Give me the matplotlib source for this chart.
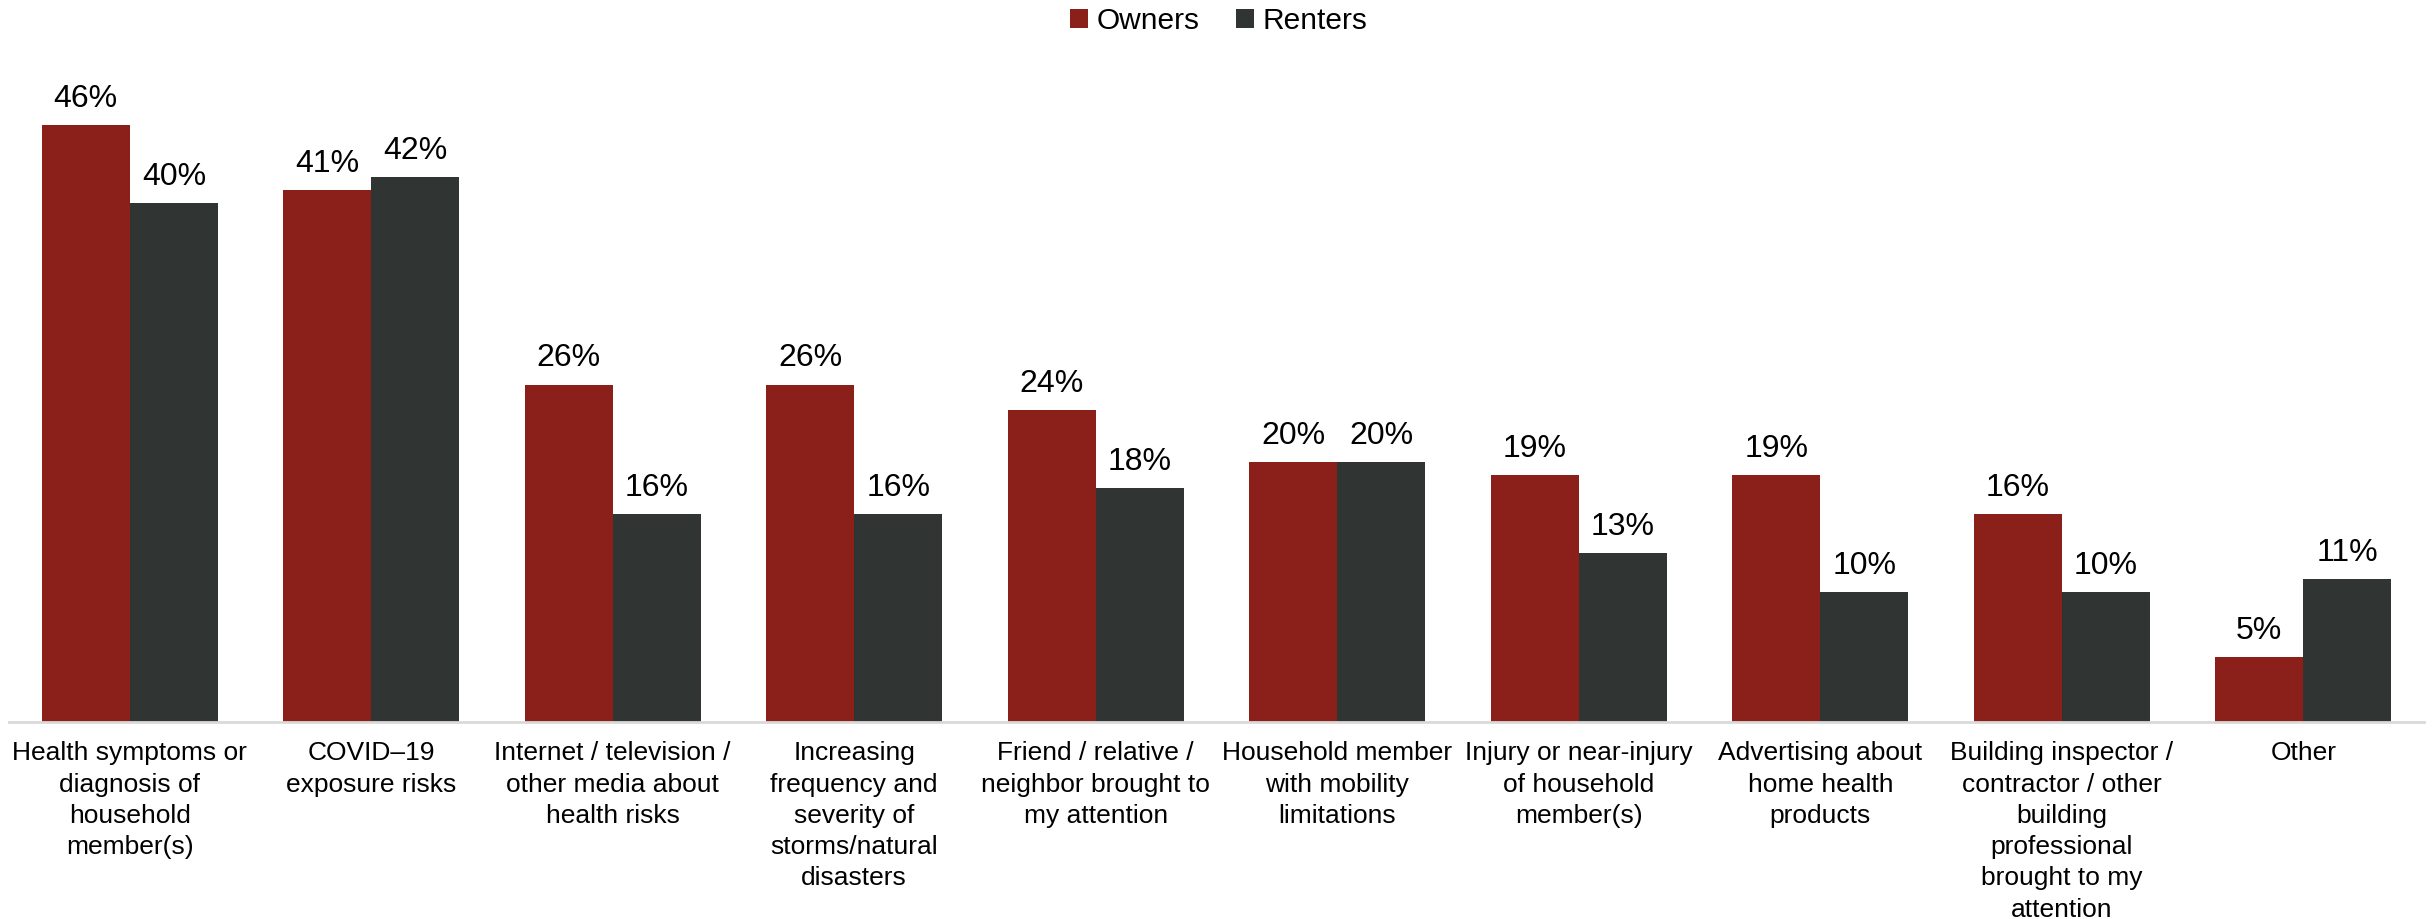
import matplotlib.pyplot as plt
import numpy as np

categories = [
    "Health symptoms or\ndiagnosis of\nhousehold\nmember(s)",
    "COVID\u201319\nexposure risks",
    "Internet / television /\nother media about\nhealth risks",
    "Increasing\nfrequency and\nseverity of\nstorms/natural\ndisasters",
    "Friend / relative /\nneighbor brought to\nmy attention",
    "Household member\nwith mobility\nlimitations",
    "Injury or near-injury\nof household\nmember(s)",
    "Advertising about\nhome health\nproducts",
    "Building inspector /\ncontractor / other\nbuilding\nprofessional\nbrought to my\nattention",
    "Other",
]
owners = [46, 41, 26, 26, 24, 20, 19, 19, 16, 5]
renters = [40, 42, 16, 16, 18, 20, 13, 10, 10, 11]

plt.rcParams['font.family'] = ['Liberation Sans', 'DejaVu Sans']

fig = plt.figure(figsize=(24.33, 9.19), dpi=100)
ax = fig.add_axes([9 / 2433, 197 / 919, 2415 / 2433, 649 / 919])

x = np.arange(len(categories))
w = 0.365
b1 = ax.bar(x - w / 2, owners, w, color='#8B1F1A', label='Owners')
b2 = ax.bar(x + w / 2, renters, w, color='#303533', label='Renters')

for bars, vals in ((b1, owners), (b2, renters)):
    for r, v in zip(bars, vals):
        ax.annotate(f"{v}%", (r.get_x() + r.get_width() / 2, r.get_height()),
                    xytext=(0, 8), textcoords='offset points',
                    ha='center', va='bottom', fontsize=23)

ax.set_xlim(-0.5, len(categories) - 0.5)
ax.set_ylim(0, 50)
ax.set_xticks(x)
ax.set_xticklabels(categories, fontsize=19, linespacing=1.38)
ax.tick_params(axis='x', length=0, pad=14)
ax.set_yticks([])
for s in ('top', 'right', 'left'):
    ax.spines[s].set_visible(False)
ax.spines['bottom'].set_color('#D9D9D9')
ax.spines['bottom'].set_linewidth(2)

fig.legend(handles=[b1, b2], loc='upper center', bbox_to_anchor=(0.501, 1.005),
           ncol=2, frameon=False, fontsize=21.5, handlelength=0.6, handleheight=0.6,
           handletextpad=0.3, columnspacing=1.2, borderaxespad=0.0)

fig.savefig('out.png', dpi=100)
